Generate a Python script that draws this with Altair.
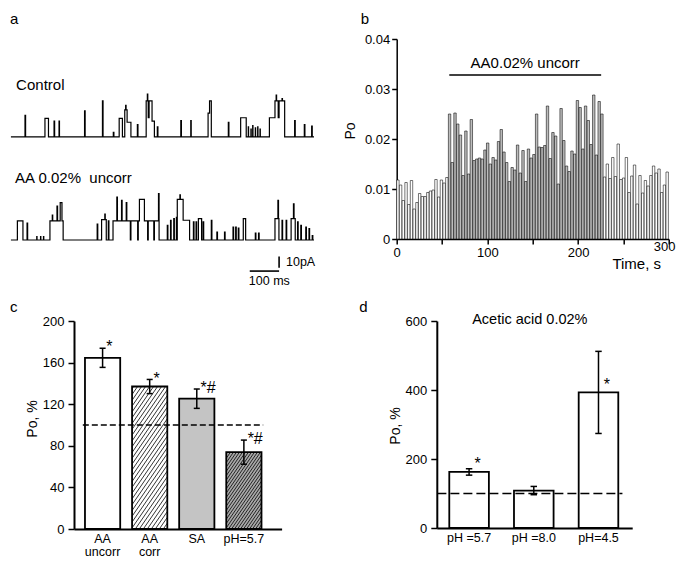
import altair as alt
import numpy as np
import pandas as pd

FONT = "Liberation Sans"

# ============================ DATA ============================
# Panel a: single-channel current traces, openings as (start ms, end ms, current pA)
TRACE_END_MS = 1033
control_open = [
    (48, 50, 19), (116, 128, 16.5), (147, 149, 14), (164, 165.5, 14),
    (251, 253, 23), (312, 314, 32), (349, 351, 4), (369, 380, 16.5),
    (388, 391, 24), (391, 392.5, 28), (392.5, 396, 24), (396, 409, 13),
    (431, 433, 11),
    (461, 465, 32), (465, 466.5, 38), (466.5, 468, 32), (468, 471, 17),
    (471, 481, 32), (481, 489, 14),
    (499, 501, 9), (579, 581, 14.5), (613, 614.5, 14.5),
    (672, 677, 21), (677, 683, 32),
    (741, 743, 13), (783, 802, 17),
    (809, 810, 9), (818, 819, 7), (824, 825, 10), (833, 834, 8), (841, 842, 9), (849, 850, 7),
    (881, 900, 17), (900, 904, 32), (904, 905.5, 37), (905.5, 911, 32),
    (911, 914, 17), (914, 924, 32), (924, 925.5, 34), (925.5, 933, 32),
    (967, 969, 14.5), (1000, 1002, 11), (1025, 1027, 9.5),
]
aa_open = [
    (22, 41, 17), (55, 57, 15),
    (88, 89, 3), (101, 102, 3), (111, 112, 3),
    (133, 141, 17), (141, 142.5, 22), (142.5, 157, 17), (157, 159, 30),
    (159, 168, 17), (168, 174, 33), (174, 178, 17),
    (294, 296, 14),
    (309, 320, 18), (320, 321.5, 23), (321.5, 325, 18),
    (332, 334, 17),
    (348, 361, 17), (361, 363, 38), (363, 377, 17), (377, 379, 35),
    (379, 393, 17), (393, 395, 33), (395, 407, 17),
    (409, 432, 17), (434, 438, 17), (438, 455, 36), (455, 466, 17),
    (468, 487, 17), (489, 503, 17), (503, 505, 41),
    (533, 535, 13), (544, 546, 17.5), (555, 557, 19), (564, 566, 20),
    (567, 576, 36), (576, 577.5, 40), (577.5, 587, 36), (587, 609, 17.5),
    (622, 624, 16), (631, 633, 16), (639, 650, 19), (655, 657, 16),
    (683, 685, 17.5), (702, 704, 7), (728, 730, 7),
    (757, 759, 11.5), (766, 768, 11.5), (775, 777, 10.5),
    (792, 800, 19), (833, 835, 6), (844, 846, 6),
    (900, 910, 19), (910, 912, 35), (912, 913.5, 19),
    (924, 926, 17.5), (938, 940, 17.5),
    (955, 963, 19), (963, 965, 32), (965, 969, 19),
    (977, 979, 16), (988, 990, 13), (1005, 1007, 11.5), (1016, 1018, 10), (1027, 1029, 4),
]

# Panel b: Po in 3-s bins, 0-300 s
BIN_S = 3
po_bins = [
    0.0118, 0.0108, 0.0077, 0.0113, 0.0069, 0.0117, 0.0060, 0.0073, 0.0091, 0.0085,
    0.0085, 0.0093, 0.0096, 0.0098, 0.0119, 0.0084, 0.0118, 0.0112, 0.0123,
    0.0250, 0.0153, 0.0252, 0.0230, 0.0208, 0.0127, 0.0216, 0.0130, 0.0239, 0.0157, 0.0160,
    0.0162, 0.0160, 0.0178,
    0.0192, 0.0150, 0.0163, 0.0158, 0.0195, 0.0219, 0.0174, 0.0153, 0.0115, 0.0143,
    0.0138, 0.0188, 0.0132, 0.0177, 0.0115, 0.0180, 0.0162, 0.0169, 0.0250, 0.0184,
    0.0183, 0.0187, 0.0266, 0.0161, 0.0213, 0.0206, 0.0110, 0.0261, 0.0197, 0.0146,
    0.0135, 0.0176, 0.0170, 0.0277, 0.0263,
    0.0180, 0.0266, 0.0237, 0.0189, 0.0288, 0.0168, 0.0275, 0.0250,
    0.0124, 0.0150, 0.0121, 0.0163, 0.0125, 0.0190, 0.0119, 0.0122, 0.0163, 0.0093,
    0.0126, 0.0148, 0.0070, 0.0127, 0.0092, 0.0117, 0.0106, 0.0127, 0.0146, 0.0132,
    0.0140, 0.0093, 0.0108, 0.0134,
]
AA_BINS_FROM, AA_BINS_TO = 57, 228      # bins recorded in AA (grey)
AA_APPLIED = (58, 225.5)                 # application bar, s

# Panel c
c_labels = ["AA\nuncorr", "AA\ncorr", "SA", "pH=5.7"]
c_means = [164.6, 137.0, 125.3, 73.9]
c_errs = [9.2, 6.8, 9.3, 11.6]
c_sig = ["*", "*", "*#", "*#"]

# Panel d
d_labels = ["pH =5.7", "pH =8.0", "pH=4.5"]
d_means = [162.5, 108.5, 393.0]
d_errs = [9.3, 12.0, 119.0]
d_sig = ["*", "", "*"]

CONTROL_LEVEL = 100

# ============================ STYLE / LAYOUT ============================
A_W, A_H = 240, 200
B_W, B_H = 272, 200
C_W, C_H = 207.6, 208
D_W, D_H = 195.4, 207
S1, S2, VS = 82.7, 154.8, 12

B_COLORS = {"AA": "#bdbdbd", "ctrl": "white"}
C_FILLS = {"AA\nuncorr": "white", "AA\ncorr": "white", "SA": "#c4c4c4", "pH=5.7": "#a8a8a8"}
D_FILLS = {lab: "white" for lab in d_labels}
C_HATCH = {"AA\ncorr": 4.0, "pH=5.7": 3.0}
C_XDOM = [-0.607, 3.801]
C_HALF = 0.374
D_XDOM = [-0.499, 2.521]
D_HALF = 0.306


def step_points(ops, end):
    pts = [(0.0, 0.0)]
    for j, (s, e, a) in enumerate(ops):
        if not (j > 0 and ops[j - 1][1] == s):
            pts.append((s, 0.0))
        pts += [(s, a), (e, a)]
        if not (j + 1 < len(ops) and ops[j + 1][0] == e):
            pts.append((e, 0.0))
    pts.append((end, 0.0))
    return pts


# ---------------- panel a ----------------
A_PX_PER_MS = 0.2934
A_PX_PER_PA = 1.13
A_BASE = 201.0          # px of AA baseline from top
CONTROL_SHIFT = 91.2    # pA display offset of control trace
a_xs = alt.Scale(domain=[TRACE_END_MS - A_W / A_PX_PER_MS, TRACE_END_MS], nice=False, zero=False)
a_ys = alt.Scale(domain=[(A_BASE - A_H) / A_PX_PER_PA, A_BASE / A_PX_PER_PA], nice=False, zero=False)

rows = []
for name, ops, shift in [("Control", control_open, CONTROL_SHIFT), ("AA", aa_open, 0.0)]:
    for k, (t, i) in enumerate(step_points(ops, TRACE_END_MS)):
        rows.append({"trace": name, "k": k, "t": t, "i": i + shift})
traces = pd.DataFrame(rows)

a_lines = alt.Chart(traces).mark_line(color="black", strokeWidth=1.2).encode(
    x=alt.X("t:Q", scale=a_xs, axis=None),
    y=alt.Y("i:Q", scale=a_ys, axis=None),
    detail="trace:N", order="k:Q")

sb_v = alt.Chart(pd.DataFrame({"t": [914], "i": [-24.5], "i2": [-14.5]})).mark_rule(
    color="black", strokeWidth=1.6).encode(x=alt.X("t:Q", scale=a_xs), y=alt.Y("i:Q", scale=a_ys), y2="i2:Q")
sb_h = alt.Chart(pd.DataFrame({"t": [814], "t2": [914], "i": [-27.5]})).mark_rule(
    color="black", strokeWidth=1.6).encode(x=alt.X("t:Q", scale=a_xs), x2="t2:Q", y=alt.Y("i:Q", scale=a_ys))

a_big = alt.Chart(pd.DataFrame({"t": [17.7, 14.3], "i": [137.5, 54.5],
                                "s": ["Control", "AA 0.02%\u00a0 uncorr"]})).mark_text(
    align="left", baseline="middle", fontSize=15, font=FONT, color="black").encode(
    x=alt.X("t:Q", scale=a_xs), y=alt.Y("i:Q", scale=a_ys), text="s:N")
a_small = alt.Chart(pd.DataFrame({"t": [937.6, 811], "i": [-19.5, -36], "s": ["10pA", "100 ms"]})).mark_text(
    align="left", baseline="middle", fontSize=12.5, font=FONT, color="black").encode(
    x=alt.X("t:Q", scale=a_xs), y=alt.Y("i:Q", scale=a_ys), text="s:N")


def tag(txt, x, y, size=15, angle=0, align="left", baseline="alphabetic"):
    kw = dict(align=align, baseline=baseline, fontSize=size, font=FONT, color="black")
    if angle:
        kw["angle"] = angle
    return alt.Chart(pd.DataFrame({"s": [txt]})).mark_text(**kw).encode(
        text="s:N", x=alt.value(x), y=alt.value(y))


panel_a = alt.layer(a_lines, sb_v, sb_h, a_big, a_small, tag("a", -64, -14.6)).properties(
    width=A_W, height=A_H)

# ---------------- panel b ----------------
bdf = pd.DataFrame({"t": [BIN_S * i for i in range(len(po_bins))], "po": po_bins})
bdf["t2"] = bdf["t"] + 2.65
bdf["phase"] = np.where((bdf["t"] >= AA_BINS_FROM) & (bdf["t"] < AA_BINS_TO), "AA", "ctrl")
bdf["col"] = bdf["phase"].map(B_COLORS)
b_xs = alt.Scale(domain=[0, 300], nice=False, zero=False)
b_ys = alt.Scale(domain=[0, 0.04], nice=False)
ax_common = dict(domainColor="black", tickColor="black", labelColor="black", labelFont=FONT,
                 grid=False, title=None, labelFlush=False)
b_bars = alt.Chart(bdf).mark_bar(stroke="black", strokeWidth=0.55).encode(
    x=alt.X("t:Q", scale=b_xs, axis=alt.Axis(
        values=list(range(0, 301, 50)),
        labelExpr="(datum.value % 100 == 0 && datum.value < 300) ? datum.label : ''",
        tickSize=5, labelPadding=2, labelFontSize=13, domainWidth=1.5, tickWidth=1.5, **ax_common)),
    x2="t2:Q",
    y=alt.Y("po:Q", scale=b_ys, axis=alt.Axis(
        values=[0, 0.01, 0.02, 0.03, 0.04],
        labelExpr="datum.value == 0 ? '0' : format(datum.value, '.2f')",
        tickSize=5, labelPadding=2, labelFontSize=13, domainWidth=1.5, tickWidth=1.5, **ax_common)),
    y2=alt.datum(0),
    fill=alt.Fill("col:N", scale=None))
b_line = alt.Chart(pd.DataFrame({"t": [AA_APPLIED[0]], "t2": [AA_APPLIED[1]], "y": [0.0328]})).mark_rule(
    color="black", strokeWidth=1.6).encode(x=alt.X("t:Q", scale=b_xs), x2="t2:Q", y=alt.Y("y:Q", scale=b_ys))
b_txt = alt.Chart(pd.DataFrame({"t": [sum(AA_APPLIED) / 2], "y": [0.03525], "s": ["AA0.02% uncorr"]})).mark_text(
    fontSize=15, font=FONT, color="black", baseline="middle").encode(
    x=alt.X("t:Q", scale=b_xs), y=alt.Y("y:Q", scale=b_ys), text="s:N")
b_300 = alt.Chart(pd.DataFrame({"t": [300], "s": ["300"]})).mark_text(
    fontSize=13, font=FONT, color="black", baseline="middle", dx=-4).encode(
    x=alt.X("t:Q", scale=b_xs), y=alt.value(B_H + 8), text="s:N")
panel_b = alt.layer(
    b_bars, b_line, b_txt, b_300,
    tag("Time, s", 240, 224.5, size=15, align="center", baseline="middle"),
    tag("Po", -46, 92, size=14, angle=270, align="center", baseline="middle"),
    tag("b", -36, -14.6),
).properties(width=B_W, height=B_H)


# ---------------- panels c / d ----------------
def hatch_rows(labels, means, spacing_map, half, px_x, px_y, slope=1.45):
    out = []
    for i, (lab, m) in enumerate(zip(labels, means)):
        if lab not in spacing_map:
            continue
        sp = spacing_map[lab]
        w = 2 * half * px_x
        h = m * px_y
        k = -w * slope
        while k < h:
            xa = max(0.0, -k / slope)
            xb = min(w, (h - k) / slope)
            if xb > xa:
                out.append({"x": i - half + xa / px_x, "y": (slope * xa + k) / px_y,
                            "x2": i - half + xb / px_x, "y2": (slope * xb + k) / px_y})
            k += sp * slope
    return pd.DataFrame(out)


def bar_panel(labels, means, errs, sig, xdom, half, W, H, ymax, yvals, fills, hatch,
              cap, dash, dash_x, sig_dx, sig_y, sig_dy, sig_align, ytitle_xy, title_tag):
    df = pd.DataFrame({"label": labels, "mean": means, "err": errs, "sig": sig})
    df["idx"] = range(len(df))
    df["x0"] = df["idx"] - half
    df["x1"] = df["idx"] + half
    df["lo"] = df["mean"] - df["err"]
    df["hi"] = df["mean"] + df["err"]
    df["sx"] = df["idx"] + sig_dx
    df["sy"] = df[sig_y]
    df["col"] = df["label"].map(fills)
    xs = alt.Scale(domain=xdom, nice=False, zero=False)
    ys = alt.Scale(domain=[0, ymax], nice=False)
    px_x = W / (xdom[1] - xdom[0])
    px_y = H / ymax
    base = alt.Chart(df)
    fill_bars = base.mark_bar().encode(
        x=alt.X("x0:Q", scale=xs, axis=alt.Axis(labels=False, ticks=False, domainWidth=2, **ax_common)),
        x2="x1:Q",
        y=alt.Y("mean:Q", scale=ys, axis=alt.Axis(values=yvals, tickSize=6, labelPadding=4, labelFontSize=13,
                                                 domainWidth=2, tickWidth=1.5, **ax_common)),
        y2=alt.datum(0),
        fill=alt.Fill("col:N", scale=None))
    layers = [fill_bars]
    if hatch:
        hd = hatch_rows(labels, means, hatch, half, px_x, px_y)
        layers.append(alt.Chart(hd).mark_rule(color="black", strokeWidth=0.8).encode(
            x=alt.X("x:Q", scale=xs), x2="x2:Q", y=alt.Y("y:Q", scale=ys), y2="y2:Q"))
    layers.append(base.mark_bar(fillOpacity=0, stroke="black", strokeWidth=1.8).encode(
        x=alt.X("x0:Q", scale=xs), x2="x1:Q", y=alt.Y("mean:Q", scale=ys), y2=alt.datum(0)))
    layers.append(alt.Chart(pd.DataFrame({"x": [dash_x[0]], "x2": [dash_x[1]], "y": [CONTROL_LEVEL]})).mark_rule(
        color="black", strokeWidth=1.6, strokeDash=dash).encode(
        x=alt.X("x:Q", scale=xs), x2="x2:Q", y=alt.Y("y:Q", scale=ys)))
    layers.append(base.mark_rule(color="black", strokeWidth=1.5).encode(
        x=alt.X("idx:Q", scale=xs), y=alt.Y("lo:Q", scale=ys), y2="hi:Q"))
    caps = pd.concat([df.assign(cy=df["lo"]), df.assign(cy=df["hi"])])
    caps["c0"] = caps["idx"] - cap
    caps["c1"] = caps["idx"] + cap
    layers.append(alt.Chart(caps).mark_rule(color="black", strokeWidth=1.5).encode(
        x=alt.X("c0:Q", scale=xs), x2="c1:Q", y=alt.Y("cy:Q", scale=ys)))
    layers.append(base.mark_text(align=sig_align, baseline="alphabetic", dy=sig_dy, fontSize=16,
                                 font=FONT, color="black").encode(
        x=alt.X("sx:Q", scale=xs), y=alt.Y("sy:Q", scale=ys), text="sig:N"))
    layers.append(base.mark_text(baseline="top", lineBreak="\n", lineHeight=13, fontSize=12.5,
                                 font=FONT, color="black").encode(
        x=alt.X("idx:Q", scale=xs), y=alt.value(H + 3.5), text="label:N"))
    layers.append(tag("Po, %", ytitle_xy[0], ytitle_xy[1], size=14, angle=270, align="center",
                      baseline="middle"))
    layers.append(tag(title_tag[0], title_tag[1], title_tag[2]))
    return alt.layer(*layers).properties(width=W, height=H)


panel_c = bar_panel(c_labels, c_means, c_errs, c_sig, C_XDOM, C_HALF, C_W, C_H, 200,
                    [0, 40, 80, 120, 160, 200], C_FILLS, C_HATCH, 0.064, [6, 3],
                    (-0.42, 3.41), 0.08, "hi", 4.2, "left", (-40.8, 98), ("c", -64, -9))

d_chart = bar_panel(d_labels, d_means, d_errs, d_sig, D_XDOM, D_HALF, D_W, D_H, 600,
                    [0, 200, 400, 600], D_FILLS, None, 0.05, [9, 4],
                    (-0.49, 2.37), 0.13, "mean", -2.6, "center", (-40.6, 105), ("d", -77.5, -9))
d_title = tag("Acetic acid 0.02%", 93, -1, size=14.5, align="center", baseline="middle")
panel_d = alt.layer(d_chart, d_title)

row1 = alt.hconcat(panel_a, panel_b, spacing=S1, bounds="flush")
row2 = alt.hconcat(panel_c, panel_d, spacing=S2, bounds="flush")
chart = (alt.vconcat(row1, row2, spacing=VS)
         .properties(padding={"top": 4, "left": 0, "right": 0, "bottom": 0})
         .configure(font=FONT)
         .configure_view(stroke=None, strokeWidth=0))

chart.save("out.html", embed_options={"renderer": "svg", "actions": False})
